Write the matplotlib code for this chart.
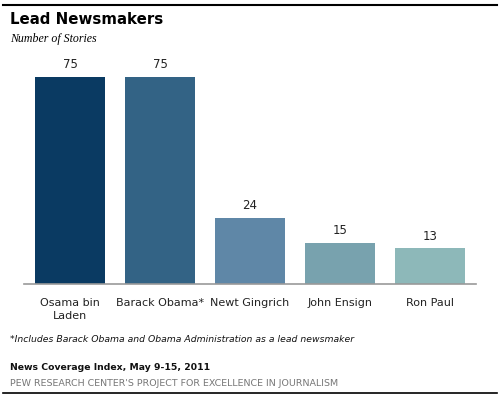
import matplotlib.pyplot as plt
from matplotlib.lines import Line2D

# data
names = ['Osama bin\nLaden', 'Barack Obama*', 'Newt Gingrich', 'John Ensign', 'Ron Paul']
stories = [75, 75, 24, 15, 13]
bar_colors = ['#0a3a62', '#336385', '#5f87a7', '#78a2ae', '#8db8b9']

W, H = 501, 398
fig = plt.figure(figsize=(W / 100, H / 100), dpi=100)

# axes placed in pixel terms: baseline at y=284, x from 24 to 476
ax_top = 70
ax = fig.add_axes([24 / W, (H - 284) / H, (476 - 24) / W, (284 - ax_top) / H])
x = list(range(len(names)))
ax.bar(x, stories, width=0.778, color=bar_colors)
ax.set_xlim(-0.511, 4.511)
ax.set_ylim(0, (284 - ax_top) / 2.76)

for xi, v in zip(x, stories):
    ax.text(xi, v + 2.0, str(v), ha='center', va='bottom', fontsize=8.5, color='#222222')

for s in ['top', 'right', 'left']:
    ax.spines[s].set_visible(False)
ax.spines['bottom'].set_color('#999999')
ax.spines['bottom'].set_linewidth(1.2)
ax.set_yticks([])
ax.set_xticks(x)
ax.set_xticklabels(names, fontsize=8, color='#222222', linespacing=1.35, va='top')
ax.tick_params(axis='x', length=0, pad=10)

# titles and notes
fig.text(10 / W, 1 - 20 / H, 'Lead Newsmakers', fontsize=10.8, fontweight='bold',
         va='center', ha='left', color='black')
fig.text(10 / W, 1 - 39 / H, 'Number of Stories', fontsize=8.6, style='italic',
         family='Liberation Serif', va='center', ha='left')
fig.text(10 / W, 1 - 339 / H, '*Includes Barack Obama and Obama Administration as a lead newsmaker',
         fontsize=6.7, style='italic', va='center', ha='left', color='#111111')
fig.text(10 / W, 1 - 368 / H, 'News Coverage Index, May 9-15, 2011', fontsize=6.7,
         fontweight='bold', va='center', ha='left', color='#111111')
fig.text(10 / W, 1 - 383 / H, "PEW RESEARCH CENTER'S PROJECT FOR EXCELLENCE IN JOURNALISM",
         fontsize=6.8, va='center', ha='left', color='#777777')

# rules at top and bottom
fig.add_artist(Line2D([3 / W, 497 / W], [1 - 4.5 / H, 1 - 4.5 / H], color='black', lw=1.5))
fig.add_artist(Line2D([3 / W, 497 / W], [1 - 393 / H, 1 - 393 / H], color='black', lw=1.2))

fig.savefig('out.png', dpi=100)
